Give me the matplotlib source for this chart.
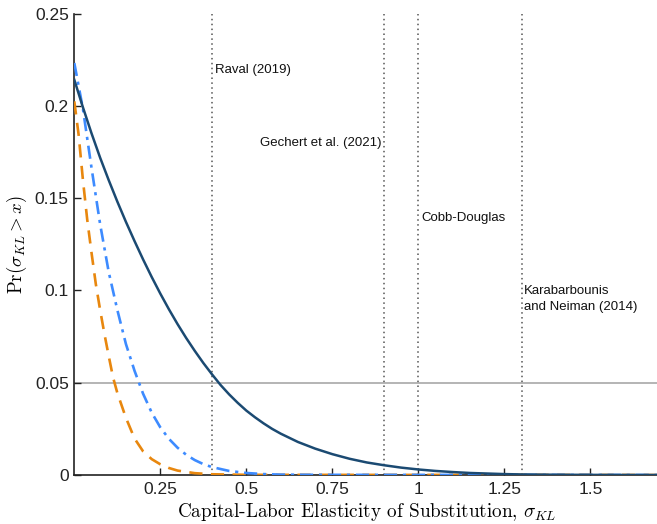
import matplotlib
matplotlib.use("Agg")
import matplotlib.pyplot as plt

# Survival curves Pr(sigma_KL > x)
x_solid = [0, 0.025, 0.05, 0.075, 0.10, 0.125, 0.15, 0.175, 0.20, 0.225,
           0.25, 0.275, 0.30, 0.325, 0.35, 0.375, 0.40, 0.425, 0.45, 0.475,
           0.50, 0.525, 0.55, 0.575, 0.60, 0.65, 0.70, 0.75, 0.80, 0.85,
           0.90, 0.95, 1.00, 1.05, 1.10, 1.15, 1.20, 1.25, 1.30, 1.40,
           1.50, 1.70]
y_solid = [0.2142, 0.1993, 0.1852, 0.1720, 0.1598, 0.1482, 0.1372, 0.1268, 0.1168, 0.1073,
           0.0983, 0.0898, 0.0818, 0.0743, 0.0673, 0.0607, 0.0546, 0.0488, 0.0437, 0.0391,
           0.0349, 0.0313, 0.0280, 0.0250, 0.0224, 0.0179, 0.0143, 0.0113, 0.0088, 0.0068,
           0.0053, 0.0040, 0.0030, 0.0022, 0.0016, 0.0011, 0.0008, 0.0005, 0.0003, 0.00015,
           0.00007, 0.0]

x_dashdot = [0, 0.025, 0.05, 0.075, 0.10, 0.125, 0.15, 0.175, 0.20, 0.225,
             0.25, 0.275, 0.30, 0.325, 0.35, 0.375, 0.40, 0.45, 0.50, 0.55,
             0.60, 0.70, 1.70]
y_dashdot = [0.2233, 0.1985, 0.1665, 0.1360, 0.1100, 0.0895, 0.0710, 0.0565, 0.0440, 0.0338,
             0.0258, 0.0196, 0.0148, 0.0110, 0.0081, 0.0059, 0.0043, 0.0022, 0.0011, 0.0005,
             0.0002, 0.0001, 0.0]

x_dashed = [0, 0.0125, 0.025, 0.0375, 0.05, 0.0625, 0.075, 0.0875, 0.10, 0.1125,
            0.125, 0.15, 0.175, 0.20, 0.225, 0.25, 0.275, 0.30, 0.35, 0.40,
            0.50, 1.70]
y_dashed = [0.2025, 0.1845, 0.1600, 0.1385, 0.1205, 0.1035, 0.0895, 0.0765, 0.0645, 0.0530,
            0.0445, 0.0310, 0.0198, 0.0128, 0.0086, 0.0058, 0.0038, 0.0024, 0.0010, 0.0004,
            0.0001, 0.0]

# Reference estimates marked as vertical lines
ref_x = [0.4, 0.9, 1.0, 1.3]
ref_labels = ["Raval (2019)", "Gechert et al. (2021)", "Cobb-Douglas",
              "Karabarbounis\nand Neiman (2014)"]
ref_label_y = [0.2195, 0.180, 0.1395, 0.0955]
ref_label_ha = ["left", "right", "left", "left"]

threshold = 0.05

x_ticks = [0.25, 0.5, 0.75, 1, 1.25, 1.5]
x_ticklabels = ["0.25", "0.5", "0.75", "1", "1.25", "1.5"]
y_ticks = [0, 0.05, 0.1, 0.15, 0.2, 0.25]
y_ticklabels = ["0", "0.05", "0.1", "0.15", "0.2", "0.25"]

plt.rcParams["mathtext.fontset"] = "cm"
plt.rcParams["font.family"] = ["Liberation Sans", "DejaVu Sans"]

fig = plt.figure(figsize=(6.57, 5.24), dpi=100)
ax = fig.add_axes([0.1131, 0.0935, 0.8903, 0.8803])

ax.axhline(threshold, color="#b4b4b4", lw=1.4, zorder=1)
for xv, lab, ly, ha in zip(ref_x, ref_labels, ref_label_y, ref_label_ha):
    ax.axvline(xv, color="#555555", lw=1.1, ls=(0, (1, 2.2)), zorder=1)
    off = 0.008 if ha == "left" else -0.008
    ax.text(xv + off, ly, lab, ha=ha, va="center", fontsize=9.5,
            linespacing=1.45, color="#111111")

ax.plot(x_dashed, y_dashed, color="#e8870e", lw=1.9, ls=(0, (5, 3.2)), zorder=3)
ax.plot(x_dashdot, y_dashdot, color="#3d8bff", lw=1.9, ls=(0, (5, 2.2, 1.2, 2.2)), zorder=4)
ax.plot(x_solid, y_solid, color="#1b4a72", lw=1.8, zorder=5)

ax.set_xlim(0, 1.7)
ax.set_ylim(0, 0.25)
ax.set_xticks(x_ticks)
ax.set_xticklabels(x_ticklabels)
ax.set_yticks(y_ticks)
ax.set_yticklabels(y_ticklabels)
ax.tick_params(direction="in", length=5, width=1, labelsize=12.5, colors="#222222")
ax.tick_params(axis="x", pad=5)
ax.tick_params(axis="y", pad=4)

for side in ("top", "right"):
    ax.spines[side].set_visible(False)
for side in ("left", "bottom"):
    ax.spines[side].set_linewidth(1.2)
    ax.spines[side].set_color("#222222")

ax.set_xlabel(r"Capital-Labor Elasticity of Substitution, $\sigma_{KL}$",
              fontsize=13.8, family="cmr10", labelpad=3)
ax.set_ylabel(r"$\mathrm{Pr}(\sigma_{KL} > x)$", fontsize=13.5, labelpad=4)

fig.savefig("out.png", dpi=100)
